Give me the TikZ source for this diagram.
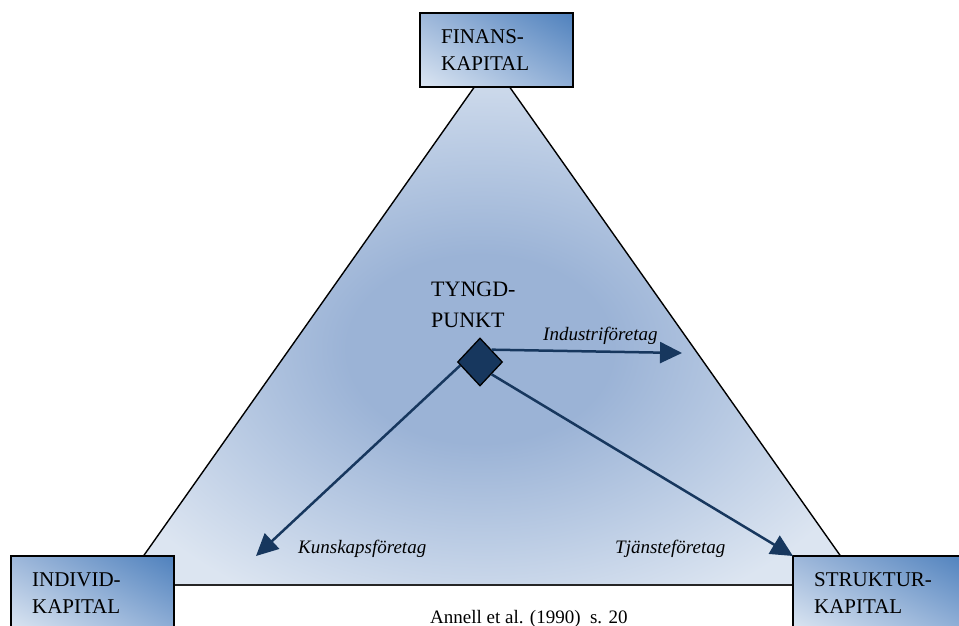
\documentclass[tikz,border=0pt]{standalone}
\usepackage{fontspec}
\setmainfont{Liberation Serif}
\usetikzlibrary{shapes.geometric,arrows.meta,shadings}
\definecolor{navy}{HTML}{17375E}
\definecolor{tridark}{HTML}{9BB3D6}
\definecolor{trimid}{HTML}{BBCCE4}
\definecolor{trilight}{HTML}{DCE5F1}
\definecolor{boxdark}{HTML}{4F81BD}
\definecolor{boxmid}{HTML}{8FAED6}
\definecolor{boxmidb}{HTML}{9DB7DA}
\definecolor{boxlight}{HTML}{DCE6F2}
\pgfdeclareradialshading{trishade}{\pgfpoint{-1bp}{-3bp}}{color(0bp)=(tridark); color(9bp)=(tridark); color(19bp)=(trimid); color(29bp)=(trilight); color(50bp)=(trilight)}
\tikzset{
  capbox/.style={draw=black, line width=2.2pt, shade, upper right=boxdark, upper left=boxmidb, lower right=boxmid, lower left=boxlight,
    anchor=north west, minimum height=74pt, inner xsep=21pt, inner ysep=0pt, align=left,
    font=\fontsize{21}{27}\selectfont},
  flow/.style={draw=navy, line width=2.5pt, -{Triangle[length=22pt,width=21pt]}},
  itlabel/.style={anchor=base west, inner sep=0pt, font=\fontsize{19}{22}\selectfont\itshape},
}
\begin{document}
\begin{tikzpicture}[x=1pt,y=-1pt]
\useasboundingbox (0,0) rectangle (959,626);
\clip (0,0) rectangle (959,626);
% triangle
\coordinate (apex) at (492,62);
\coordinate (cl) at (123,585);
\coordinate (cr) at (861,585);
\shade[shading=trishade] (apex) -- (cl) -- (cr) -- cycle;
\draw[line width=1.4pt] (apex) -- (cl);
\draw[line width=1.4pt] (apex) -- (cr);
\draw[line width=2pt, draw=black!85] (cl) -- (cr);
% boxes
\node[capbox, minimum width=153pt, text width=111pt] (fin) at (419,12) {FINANS-\\KAPITAL};
\node[capbox, minimum width=163pt, text width=121pt] (ind) at (10,555) {INDIVID-\\KAPITAL};
\node[capbox, minimum width=175pt, text width=133pt] (str) at (792,555) {STRUKTUR-\\KAPITAL};
% centre of gravity
\node[diamond, minimum width=45pt, minimum height=48pt, inner sep=0pt, fill=navy, draw=black, line width=1.3pt] (tp) at (480,362) {};
\coordinate (indtip) at (682,353);
\coordinate (kuntip) at (256,556);
\coordinate (tjatip) at (793,556);
\draw[flow] (tp.north east) -- (indtip);
\draw[flow] (tp.190) -- (kuntip);
\draw[flow] (tp.south east) -- (tjatip);
% labels
\node[anchor=north west, inner sep=0pt, align=left, font=\fontsize{22}{31}\selectfont] (tyngd) at (431,281.5) {TYNGD-\\PUNKT};
\node[itlabel] (lind) at (543,340) {Industriföretag};
\node[itlabel] (lkun) at (298,553) {Kunskapsföretag};
\node[itlabel] (ltja) at (615,553) {Tjänsteföretag};
\node[anchor=base west, inner sep=0pt, font=\fontsize{19}{22}\selectfont] (src) at (430,623) {Annell et al. (1990)\ \ s. 20};
\end{tikzpicture}
\end{document}
